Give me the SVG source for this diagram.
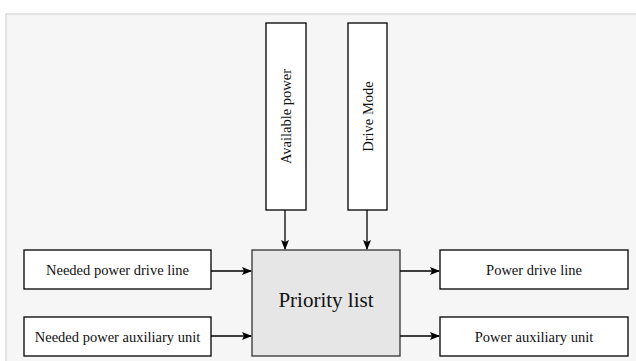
<svg xmlns="http://www.w3.org/2000/svg" width="636" height="361" viewBox="0 0 636 361">
<defs>
<marker id="ah" markerWidth="10" markerHeight="8" refX="9" refY="4" orient="auto" markerUnits="userSpaceOnUse">
<path d="M0,0 L10,4 L0,8 L2,4 Z" fill="#000"/>
</marker>
</defs>
<style>
.box{fill:#fff;stroke:#000;stroke-width:1.3}
.main{fill:#e6e6e6;stroke:#333;stroke-width:1.3}
.t{font-family:"Liberation Serif","Times New Roman",serif;font-size:14.5px;fill:#111;text-anchor:middle;dominant-baseline:central}
.big{font-size:21px}
.c{stroke:#000;stroke-width:1.3;fill:none;marker-end:url(#ah)}
</style>
<rect x="0" y="0" width="636" height="361" fill="#fff"/>
<rect x="6" y="14" width="640" height="360" fill="#f6f6f6" stroke="#dcdcdc" stroke-width="1.5"/>
<g id="n-available">
<rect class="box" x="266" y="23" width="40" height="187"/>
<text class="t" transform="translate(286,116.5) rotate(-90)">Available power</text>
</g>
<g id="n-drivemode">
<rect class="box" x="348" y="23" width="39" height="187"/>
<text class="t" transform="translate(367.5,116.5) rotate(-90)">Drive Mode</text>
</g>
<g id="n-priority">
<rect class="main" x="252" y="250" width="148" height="106"/>
<text class="t big" x="326" y="300">Priority list</text>
</g>
<g id="n-needed-drive">
<rect class="box" x="24" y="250" width="187" height="39"/>
<text class="t" x="117.5" y="269.5">Needed power drive line</text>
</g>
<g id="n-needed-aux">
<rect class="box" x="24" y="317" width="187" height="39"/>
<text class="t" x="117.5" y="336.5">Needed power auxiliary unit</text>
</g>
<g id="n-power-drive">
<rect class="box" x="440" y="250" width="188" height="39"/>
<text class="t" x="534" y="269.5">Power drive line</text>
</g>
<g id="n-power-aux">
<rect class="box" x="440" y="317" width="188" height="39"/>
<text class="t" x="534" y="336.5">Power auxiliary unit</text>
</g>
<g id="connectors">
<line class="c" x1="285" y1="210" x2="285" y2="249"/>
<line class="c" x1="367" y1="210" x2="367" y2="249"/>
<line class="c" x1="211" y1="271" x2="251" y2="271"/>
<line class="c" x1="211" y1="336" x2="251" y2="336"/>
<line class="c" x1="400" y1="271" x2="439" y2="271"/>
<line class="c" x1="400" y1="336" x2="439" y2="336"/>
</g>
</svg>
